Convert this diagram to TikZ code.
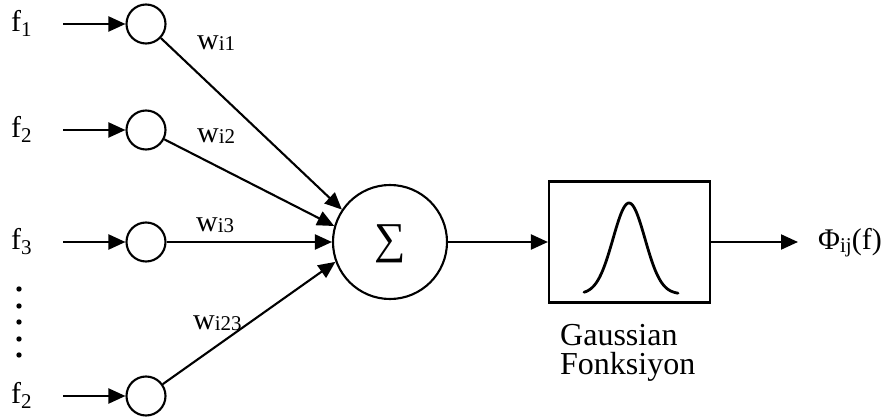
\documentclass[tikz,border=0pt]{standalone}
\usepackage{fontspec}
\setmainfont{Liberation Serif}
\usetikzlibrary{arrows.meta}
\newcommand\lowsub[2]{\raisebox{-#2pt}{\fontsize{21}{21}\selectfont #1}}
\tikzset{
  lw/.style={line width=2.1pt},
  arr/.style={lw,-{Triangle[length=17pt,width=15pt]}},
  inp/.style={circle,draw,lw,minimum size=39pt,inner sep=0pt},
  lbl/.style={anchor=base west,inner sep=0pt,font=\fontsize{30}{30}\selectfont},
}
\begin{document}
\begin{tikzpicture}[x=1pt,y=-1pt]
\useasboundingbox (0,0) rectangle (887,417);
% input circles
\node[inp] (c1) at (146,24) {};
\node[inp] (c2) at (146,130) {};
\node[inp] (c3) at (146,242) {};
\node[inp] (c4) at (146,396) {};
% input arrow starts
\coordinate (s1) at (63,24);
\coordinate (s2) at (63,130);
\coordinate (s3) at (63,242);
\coordinate (s4) at (63,396);
% input labels
\node[lbl] (f1) at (11,32) {f\lowsub{1}{5}};
\node[lbl] (f2) at (11,138) {f\lowsub{2}{5}};
\node[lbl] (f3) at (11,250) {f\lowsub{3}{5}};
\node[lbl] (f4) at (11,403) {f\lowsub{2}{5}};
% dots
\foreach \yy in {289,306,322,339,355} \fill (19,\yy) circle (2.7pt);
% sum node
\node[circle,draw,lw,minimum size=114pt,inner sep=0pt] (sum) at (390,242) {};
\node[inner sep=0pt,font=\fontsize{44}{44}\selectfont] (sig) at (390,244) {∑};
% gaussian box
\node[draw,lw,minimum width=161pt,minimum height=121pt,inner sep=0pt] (box) at (629.5,242) {};
\draw[line width=2.8pt,line cap=round,domain=584:678,samples=80,smooth]
  plot (\x,{294-91*exp(-((\x-629)/16)^2/2)});
\node[lbl,font=\fontsize{32}{32}\selectfont] (g1) at (560,345) {Gaussian};
\node[lbl,font=\fontsize{32}{32}\selectfont] (g2) at (560,374) {Fonksiyon};
% output
\coordinate (o) at (798,242);
\node[lbl] (phi) at (818,249) {Φ\lowsub{ij}{3}(f)};
% weights
\node[lbl] (w1) at (197,50) {w\lowsub{i1}{1}};
\node[lbl] (w2) at (197,143) {w\lowsub{i2}{1}};
\node[lbl] (w3) at (196,232) {w\lowsub{i3}{1}};
\node[lbl] (w4) at (193,329) {w\lowsub{i23}{1}};
% connectors
\draw[arr] (s1) -- (c1);
\draw[arr] (s2) -- (c2);
\draw[arr] (s3) -- (c3);
\draw[arr] (s4) -- (c4);
\draw[arr] (c1) -- (sum.146);
\draw[arr] (c2) -- (sum.164);
\draw[arr] (c3) -- (sum.180);
\draw[arr] (c4) -- (sum.200);
\draw[arr] (sum.east) -- (box.west);
\draw[arr] (box.east) -- (o);
\end{tikzpicture}
\end{document}
